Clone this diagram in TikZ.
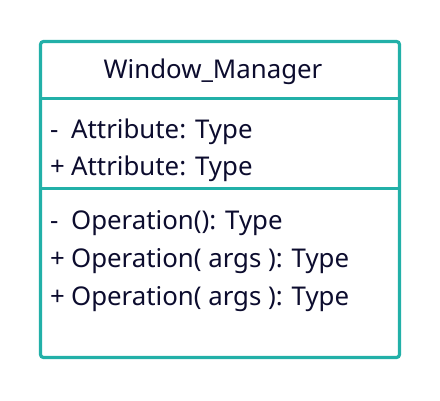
\documentclass[tikz,border=0pt]{standalone}
\usepackage{fontspec}
\setmainfont{Noto Sans}
\definecolor{umlteal}{RGB}{34,176,168}
\definecolor{umlink}{RGB}{12,12,46}
\begin{document}
\begin{tikzpicture}[x=1pt,y=-1pt,
  frame/.style={draw=umlteal,line width=3.2pt,rounded corners=3pt},
  divider/.style={draw=umlteal,line width=3.2pt},
  title/.style={text=umlink,font=\fontsize{25.8}{30}\selectfont,inner sep=0pt,anchor=base},
  member/.style={text=umlink,font=\fontsize{25.8}{30}\selectfont,inner sep=0pt,anchor=base west}]
  \useasboundingbox (0,0) rectangle (440,400);
  % class frame and compartment dividers
  \draw[frame] (40.5,41.5) rectangle (399.5,357.5);
  \coordinate (d1l) at (40.5,98.5);
  \coordinate (d1r) at (399.5,98.5);
  \coordinate (d2l) at (40.5,188.5);
  \coordinate (d2r) at (399.5,188.5);
  \draw[divider] (d1l) -- (d1r);
  \draw[divider] (d2l) -- (d2r);
  % class name
  \node[title] (name) at (213,78) {Window\_Manager};
  % attributes
  \node[member] (a1) at (50,138) {\makebox[21pt][l]{-}Attribute: Type};
  \node[member] (a2) at (50,175) {\makebox[21pt][l]{+}Attribute: Type};
  % operations
  \node[member] (o1) at (50,229) {\makebox[21pt][l]{-}Operation(): Type};
  \node[member] (o2) at (50,267) {\makebox[21pt][l]{+}Operation( args ): Type};
  \node[member] (o3) at (50,305) {\makebox[21pt][l]{+}Operation( args ): Type};
\end{tikzpicture}
\end{document}
